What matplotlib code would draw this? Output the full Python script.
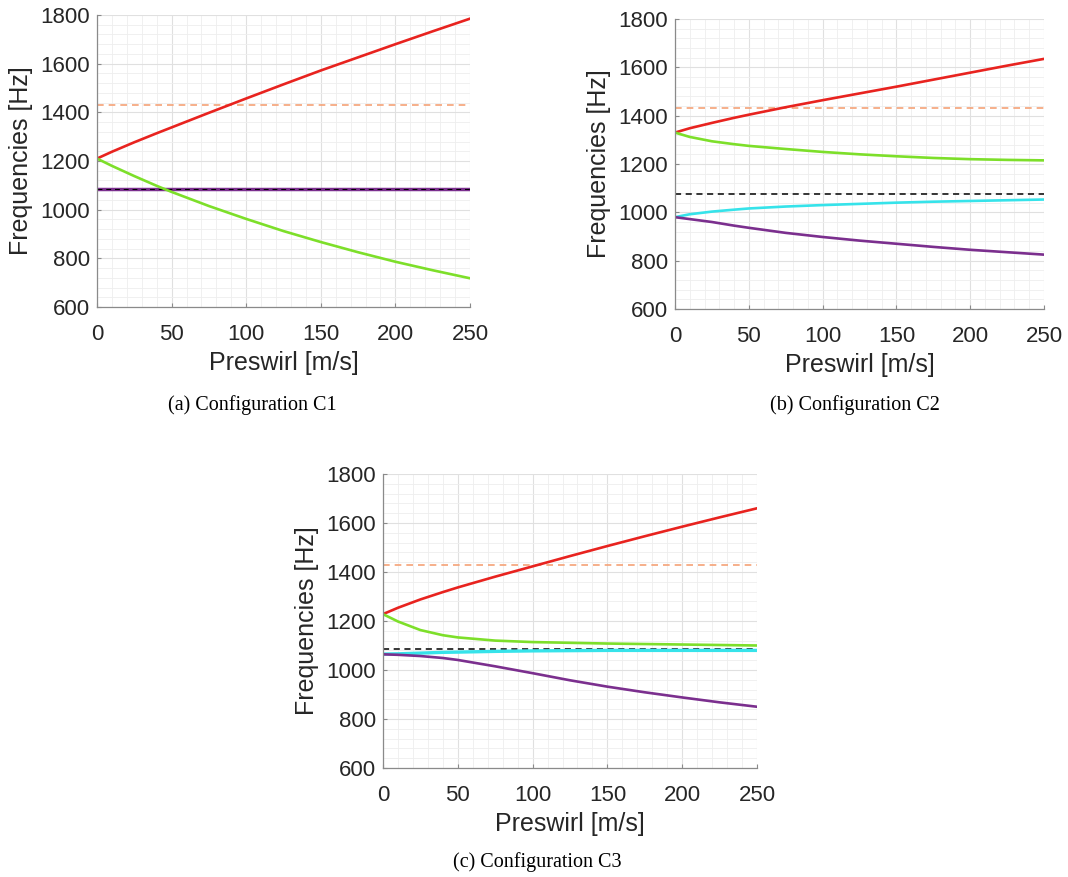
import numpy as np
import matplotlib.pyplot as plt
from matplotlib.ticker import MultipleLocator

# ---- data ----
preswirl = [0, 10, 25, 40, 50, 75, 100, 125, 150, 175, 200, 225, 250]

c1_red    = [1210, 1238, 1277, 1314, 1338, 1398, 1457, 1515, 1572, 1626, 1680, 1733, 1785]
c1_green  = [1210, 1180, 1138, 1098, 1073, 1015, 962, 912, 867, 825, 786, 751, 718]
c1_purple = [1085] * 13
c1_black = 1085
c1_orange = 1430

c2_red    = [1330, 1348, 1370, 1391, 1404, 1435, 1464, 1492, 1520, 1549, 1578, 1607, 1635]
c2_green  = [1330, 1312, 1294, 1282, 1275, 1262, 1250, 1240, 1232, 1225, 1220, 1217, 1215]
c2_cyan   = [980, 992, 1003, 1011, 1016, 1024, 1030, 1035, 1040, 1044, 1047, 1050, 1053]
c2_purple = [980, 972, 960, 945, 936, 915, 898, 883, 870, 857, 845, 835, 825]
c2_black = 1077
c2_orange = 1430

c3_red    = [1228, 1254, 1288, 1318, 1337, 1381, 1423, 1465, 1506, 1546, 1585, 1623, 1660]
c3_green  = [1228, 1198, 1163, 1142, 1133, 1120, 1114, 1111, 1108, 1106, 1104, 1102, 1100]
c3_cyan   = [1065, 1066, 1069, 1072, 1073, 1076, 1078, 1079, 1080, 1080, 1080, 1080, 1080]
c3_purple = [1064, 1062, 1057, 1049, 1041, 1015, 987, 958, 932, 909, 888, 868, 850]
c3_black = 1085
c3_orange = 1430

captions = ["(a) Configuration C1", "(b) Configuration C2", "(c) Configuration C3"]

RED = "#e8231f"
GREEN = "#7ddf2a"
PURPLE = "#7b2f8e"
CYAN = "#36e3ea"
ORANGE = "#f5a277"

plt.rcParams['font.family'] = ['Liberation Sans', 'DejaVu Sans']

W, H = 1068, 877
fig = plt.figure(figsize=(W / 100, H / 100), dpi=100)

# axes boxes in pixels: left, top, right, bottom
boxes = [(97, 15, 470, 307), (675, 19, 1044, 309), (383, 474, 757, 768)]
positions = [[l / W, 1 - b / H, (r - l) / W, (b - t) / H] for (l, t, r, b) in boxes]


def style(ax, box):
    l, t, r, b = box
    ax.set_xlim(0, 250)
    ax.set_ylim(600, 1800)
    ax.set_xticks([0, 50, 100, 150, 200, 250])
    ax.set_yticks([600, 800, 1000, 1200, 1400, 1600, 1800])
    ax.xaxis.set_minor_locator(MultipleLocator(10))
    ax.yaxis.set_minor_locator(MultipleLocator(40))
    ax.grid(True, which='major', color='#e0e0e0', linewidth=0.8)
    ax.grid(True, which='minor', color='#eeeeee', linewidth=0.6)
    ax.set_axisbelow(True)
    for s in ['top', 'right']:
        ax.spines[s].set_visible(False)
    for s in ['left', 'bottom']:
        ax.spines[s].set_color('#8a8a8a')
        ax.spines[s].set_linewidth(0.9)
    ax.tick_params(which='major', direction='in', length=3, colors='#8a8a8a',
                   labelcolor='#262626', labelsize=16)
    ax.tick_params(axis='x', which='major', pad=12)
    ax.tick_params(axis='y', which='major', pad=5)
    ax.tick_params(which='minor', length=0)
    ax.set_xlabel("Preswirl [m/s]", fontsize=18, color='#262626')
    ax.set_ylabel("Frequencies [Hz]", fontsize=18, color='#262626')
    ax.xaxis.set_label_coords(0.5, -44 / (b - t))
    ax.yaxis.set_label_coords(-64 / (r - l), 0.5)


axes = [fig.add_axes(p) for p in positions]
for ax, box in zip(axes, boxes):
    style(ax, box)

LW = 1.9

# (a)
ax = axes[0]
ax.axhline(c1_orange, color=ORANGE, ls='--', lw=1.2, dashes=(4, 3))
ax.plot(preswirl, c1_purple, color=PURPLE, lw=2.5)
ax.axhline(c1_black, color='black', ls='--', lw=0.7, dashes=(5, 4))
ax.plot(preswirl, c1_red, color=RED, lw=LW)
ax.plot(preswirl, c1_green, color=GREEN, lw=LW)

# (b)
ax = axes[1]
ax.axhline(c2_orange, color=ORANGE, ls='--', lw=1.2, dashes=(4, 3))
ax.axhline(c2_black, color='black', ls='--', lw=1.1, dashes=(4, 3))
ax.plot(preswirl, c2_red, color=RED, lw=LW)
ax.plot(preswirl, c2_green, color=GREEN, lw=LW)
ax.plot(preswirl, c2_cyan, color=CYAN, lw=LW)
ax.plot(preswirl, c2_purple, color=PURPLE, lw=LW)

# (c)
ax = axes[2]
ax.axhline(c3_orange, color=ORANGE, ls='--', lw=1.2, dashes=(4, 3))
ax.axhline(c3_black, color='black', ls='--', lw=1.1, dashes=(4, 3))
ax.plot(preswirl, c3_red, color=RED, lw=LW)
ax.plot(preswirl, c3_green, color=GREEN, lw=LW)
ax.plot(preswirl, c3_cyan, color=CYAN, lw=2.4)
ax.plot(preswirl, c3_purple, color=PURPLE, lw=LW)

caption_pos = [(252, 405), (855, 405), (537, 862)]
for (x, y), t in zip(caption_pos, captions):
    fig.text(x / W, 1 - y / H, t, ha='center', va='center', fontsize=14.5,
             family=['Liberation Serif', 'DejaVu Serif'], color='black')

fig.savefig("out.png", dpi=100)
